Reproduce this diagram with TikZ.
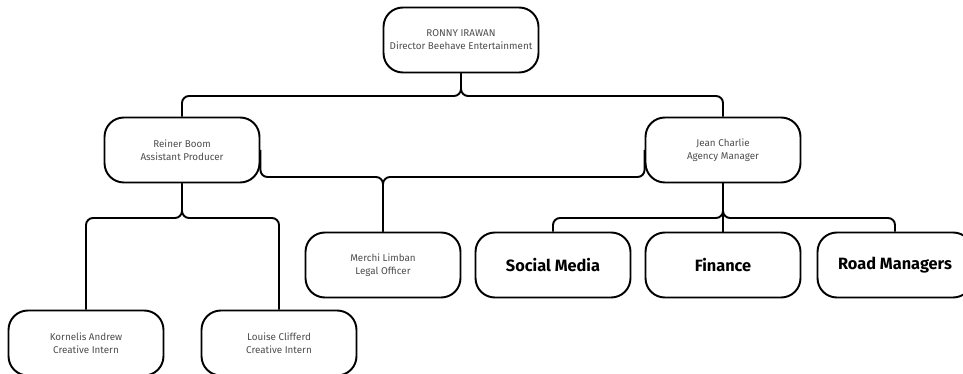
\documentclass[tikz,border=0pt]{standalone}
\usepackage{fontspec}
\setmainfont{Fira Sans}
\usepackage{tikz}

\begin{document}
\begin{tikzpicture}[x=0.02cm, y=-0.02cm,
    every node/.style={draw, line width=1.1pt, rounded corners=11pt, minimum width=3.1cm, minimum height=1.3cm, align=center},
    person/.style={font=\fontsize{5.6}{7.4}\selectfont, text=black!70},
    unit/.style={font=\fontsize{9.3}{11}\selectfont\bfseries},
    link/.style={line width=1.1pt, rounded corners=4pt}]

\useasboundingbox (0,0) rectangle (963,374);

% Director
\node[person] (director) at (461,40) {RONNY IRAWAN\\Director Beehave Entertainment};

% Second level
\node[person] (reiner) at (182,150) {Reiner Boom\\Assistant Producer};
\node[person] (jean) at (723,150) {Jean Charlie\\Agency Manager};

% Third level
\node[person] (merchi) at (383,265) {Merchi Limban\\Legal Officer};
\node[unit] (social) at (553,265) {Social Media};
\node[unit] (finance) at (723,265) {Finance};
\node[unit] (road) at (895,265) {Road Managers};

% Interns
\node[person] (kornelis) at (86,343) {Kornelis Andrew\\Creative Intern};
\node[person] (louise) at (279,343) {Louise Clifferd\\Creative Intern};

% Bus points
\coordinate (topbus) at (461,96);
\coordinate (midbus) at (383,177);
\coordinate (reinerbus) at (182,218);
\coordinate (jeanbus) at (723,218);

% Director to second level
\draw[link] (director.south) -- (topbus) -| (reiner.north);
\draw[link] (director.south) -- (topbus) -| (jean.north);

% Reiner and Jean to legal officer
\draw[link] (reiner.east) |- (midbus) -- (merchi.north);
\draw[link] (jean.west) |- (midbus) -- (merchi.north);

% Reiner to interns
\draw[link] (reiner.south) -- (reinerbus) -| (kornelis.north);
\draw[link] (reiner.south) -- (reinerbus) -| (louise.north);

% Jean to units
\draw[link] (jean.south) -- (jeanbus) -| (social.north);
\draw[link] (jean.south) -- (finance.north);
\draw[link] (jean.south) -- (jeanbus) -| (road.north);

\end{tikzpicture}
\end{document}
